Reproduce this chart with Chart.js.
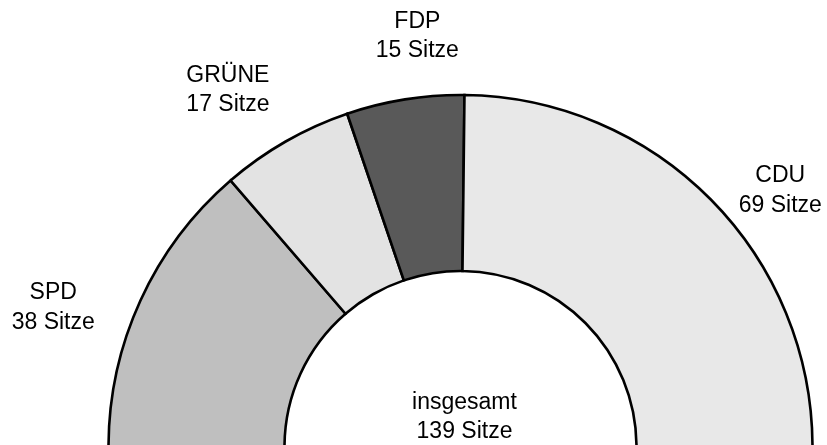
<!DOCTYPE html>
<html>
<head>
<meta charset="utf-8">
<script src="https://cdn.jsdelivr.net/npm/chart.js@4/dist/chart.umd.min.js"></script>
<style>
  html, body { margin: 0; padding: 0; background: #ffffff; overflow: hidden; }
  #wrap { position: relative; width: 827px; height: 445px; }
</style>
</head>
<body>
<div id="wrap"><canvas id="c"></canvas></div>
<script>
// ---- data ----
const parties = ['SPD', 'GRÜNE', 'FDP', 'CDU'];
const seats = [38, 17, 15, 69];
const seatWord = 'Sitze';
const totalWord = 'insgesamt';

// ---- styles / layout ----
const sliceColors = ['#bfbfbf', '#e3e3e3', '#595959', '#e8e8e8'];
// label placement relative to ring centre: angle (deg, CCW from +x) and distance as multiple of outer radius
const labelAngles = [161.1, 123.1, 96.0, 38.7];
const labelDist = [1.223, 1.210, 1.173, 1.164];
const FONT = '23px "Liberation Sans", Arial, sans-serif';
const LINE = 29.5;

const labelPlugin = {
  id: 'seatLabels',
  afterDatasetsDraw(chart) {
    const ctx = chart.ctx;
    const meta = chart.getDatasetMeta(0);
    const arcs = meta.data;
    if (!arcs.length) return;
    const cx = arcs[0].x, cy = arcs[0].y, R = arcs[0].outerRadius;
    ctx.save();
    ctx.font = FONT;
    ctx.fillStyle = '#000000';
    ctx.textAlign = 'center';
    ctx.textBaseline = 'middle';
    arcs.forEach((arc, i) => {
      const a = labelAngles[i] * Math.PI / 180;
      const x = cx + Math.cos(a) * R * labelDist[i];
      const y = cy - Math.sin(a) * R * labelDist[i];
      ctx.fillText(parties[i], x, y - LINE / 2);
      ctx.fillText(seats[i] + ' ' + seatWord, x, y + LINE / 2);
    });
    const total = seats.reduce((s, v) => s + v, 0);
    const tx = cx + 4, ty = cy - 30;
    ctx.fillText(totalWord, tx, ty - LINE / 2);
    ctx.fillText(total + ' ' + seatWord, tx, ty + LINE / 2);
    ctx.restore();
  }
};

new Chart(document.getElementById('c'), {
  type: 'doughnut',
  data: {
    labels: parties,
    datasets: [{
      data: seats,
      backgroundColor: sliceColors,
      borderColor: '#000000',
      borderWidth: 2.6,
      borderJoinStyle: 'miter'
    }]
  },
  options: {
    responsive: true,
    maintainAspectRatio: false,
    animation: false,
    rotation: -90,
    circumference: 180,
    radius: 352,
    cutout: '50%',
    layout: { padding: { left: 108, right: 14, top: 97, bottom: 0 } },
    plugins: {
      legend: { display: false },
      tooltip: { enabled: false }
    }
  },
  plugins: [labelPlugin]
});
</script>
</body>
</html>
